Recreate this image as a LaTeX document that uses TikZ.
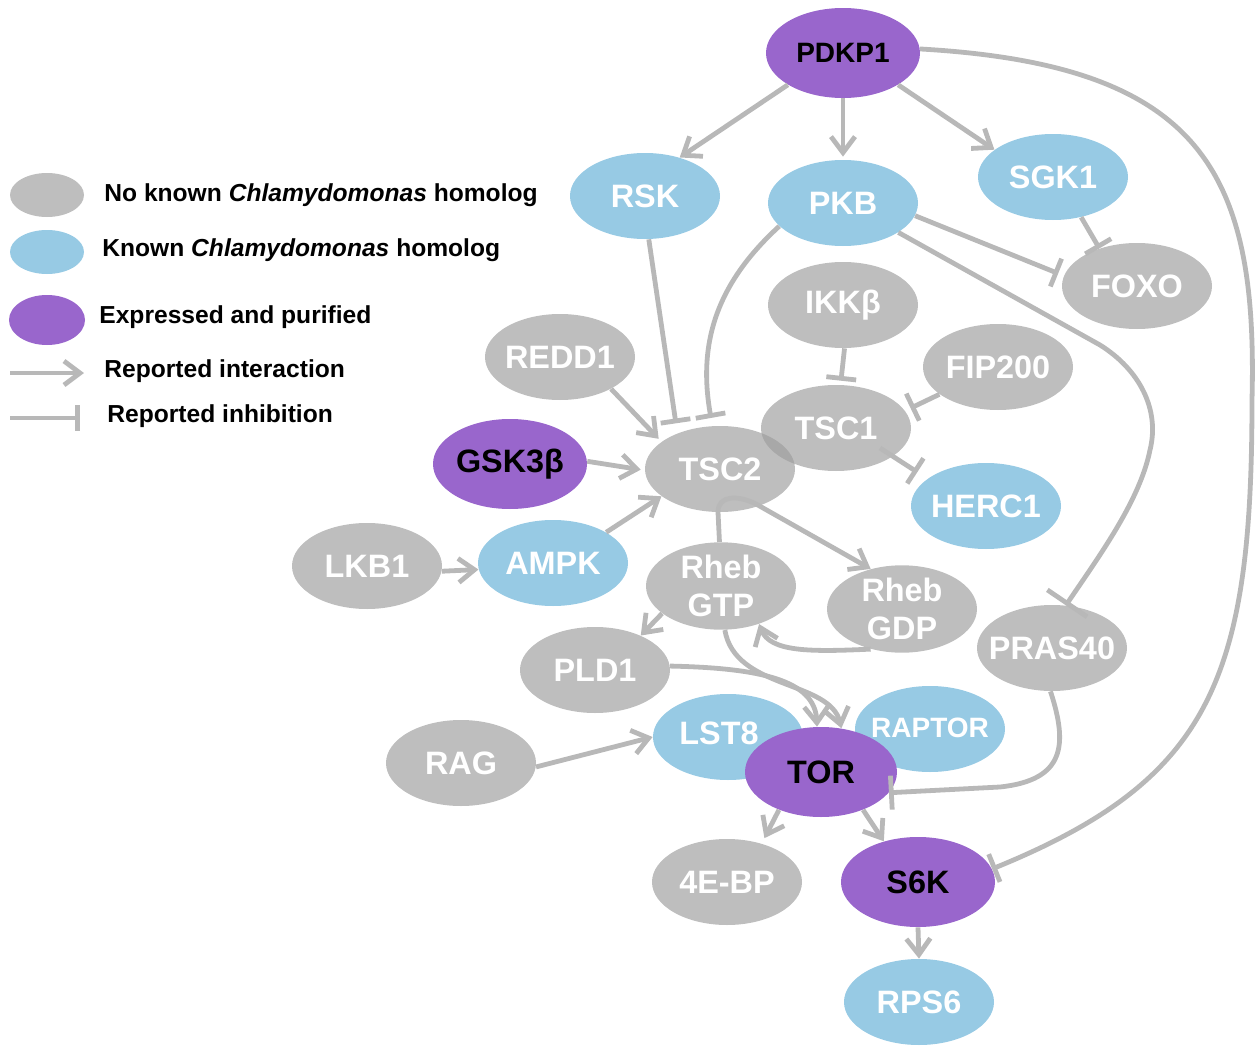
\documentclass[tikz,border=0pt]{standalone}
\usepackage{fontspec}
\setmainfont{Liberation Sans}
\newfontfamily\nodefont{Liberation Sans}
\usetikzlibrary{shapes.geometric,arrows.meta}
\definecolor{ngray}{HTML}{BEBEBE}
\definecolor{nblue}{HTML}{97CAE4}
\definecolor{npurp}{HTML}{9966CC}
\definecolor{eline}{HTML}{B8B8B8}
\definecolor{ovl}{HTML}{A8A8A8}
\newcommand\tx[1]{\makebox[0pt]{#1}}
\begin{document}
\begin{tikzpicture}[x=0.5pt,y=-0.5pt,
  nd/.style={ellipse, inner sep=0pt, minimum width=75pt, minimum height=43pt,
    text=white, align=center,
    font=\nodefont\bfseries\fontsize{16.2}{19}\selectfont},
  small/.style={font=\nodefont\bfseries\fontsize{14}{17}\selectfont},
  gnd/.style={nd, fill=ngray},
  bnd/.style={nd, fill=nblue},
  pnd/.style={nd, fill=npurp, text=black, minimum width=77pt, minimum height=45pt},
  edge/.style={draw=eline, line width=2.4pt},
  act/.style={edge, -{Straight Barb[length=8pt,width=12pt]}},
  inh/.style={edge, -{Bar[width=15pt]}},
  leg/.style={anchor=west, inner sep=0pt, font=\bfseries\fontsize{12.3}{14}\selectfont}
]
\useasboundingbox (0,0) rectangle (1255,1049);

% legend
\node[gnd, minimum width=37pt, minimum height=22pt] (lg1) at (47,195) {};
\node[bnd, minimum width=37pt, minimum height=22pt] (lg2) at (47,252) {};
\node[pnd, minimum width=38pt, minimum height=25pt] (lg3) at (47,320) {};
\node[leg] (lt1) at (104,195) {No known \textit{Chlamydomonas} homolog};
\node[leg] (lt2) at (102,250) {Known \textit{Chlamydomonas} homolog};
\node[leg] (lt3) at (99,317) {Expressed and purified};
\node[leg] (lt4) at (104,371) {Reported interaction};
\node[leg] (lt5) at (107,416) {Reported inhibition};
\coordinate (la1) at (10,373);
\coordinate (la2) at (84,373);
\coordinate (lb1) at (10,418);
\coordinate (lb2) at (80,418);
\draw[act] (la1) -- (la2);
\draw[edge, -{Bar[width=13pt]}] (lb1) -- (lb2);

% nodes
\node[pnd, small] (pdk) at (843,53) {\tx{PDKP1}};
\node[bnd] (rsk) at (645,196) {\tx{RSK}};
\node[bnd] (pkb) at (843,203) {\tx{PKB}};
\node[bnd] (sgk) at (1053,177) {\tx{SGK1}};
\node[gnd] (foxo) at (1137,286) {\tx{FOXO}};
\node[gnd] (ikk) at (843,305) {\tx{IKKβ}};
\node[gnd] (fip) at (998,367) {\tx{FIP200}};
\node[gnd] (redd) at (560,357) {\tx{REDD1}};
\node[gnd] (tsc2) at (720,469) {\tx{TSC2}};
\node[gnd] (tsc1) at (836,428) {\tx{TSC1}};
\begin{scope}
  \clip (tsc2.center) ellipse [x radius=37.5pt, y radius=21.5pt];
  \fill[ovl] (tsc1.center) ellipse [x radius=37.5pt, y radius=21.5pt];
\end{scope}
\node[pnd] (gsk) at (510,464) {\tx{GSK3β}};
\node[bnd] (herc) at (986,506) {\tx{HERC1}};
\node[gnd] (lkb) at (367,566) {\tx{LKB1}};
\node[bnd] (ampk) at (553,563) {\tx{AMPK}};
\node[gnd] (rgtp) at (721,586) {\tx{Rheb}\\\tx{GTP}};
\node[gnd] (rgdp) at (902,609) {\tx{Rheb}\\\tx{GDP}};
\node[gnd] (pras) at (1052,648) {\tx{PRAS40}};
\node[gnd] (pld) at (595,670) {\tx{PLD1}};
\node[bnd] (lst) at (728,737) {\tx{\hspace*{-9pt}\raisebox{4pt}{LST8}}};
\node[bnd, small] (raptor) at (930,729) {\tx{\raisebox{1.5pt}{RAPTOR}}};
\node[pnd, minimum width=76pt] (tor) at (821,772) {\tx{TOR}};
\node[gnd] (rag) at (461,763) {\tx{RAG}};
\node[gnd] (ebp) at (727,882) {\tx{4E-BP}};
\node[pnd] (s6k) at (918,882) {\tx{S6K}};
\node[bnd] (rps) at (919,1002) {\tx{RPS6}};

% edges
\draw[act] (pdk.210) -- (rsk.48);
\draw[act, shorten >=1.5pt] (pdk.south) -- (pkb.north);
\draw[act] (pdk.330) -- (sgk.155);
\draw[inh] (pdk.3) .. controls (1200,65) and (1258,170) .. (1252,400)
   .. controls (1252,680) and (1210,780) .. (s6k.10);
\draw[inh] (sgk.-55) -- (foxo.135);
\draw[inh, shorten >=3pt] (pkb.-10) -- (foxo.172);
\draw[edge, -{Bar[width=24pt]}] (pkb.-28) -- (1100,345) .. controls (1140,370) and (1160,410) .. (1150,450)
   .. controls (1140,500) and (1100,555) .. (pras.72);
\draw[inh, shorten >=5pt] (rsk.-85) -- (tsc2.140);
\draw[inh, shorten >=4pt] (pkb.200) .. controls (715,285) and (698,345) .. (tsc2.100);
\draw[inh, shorten >=2pt] (ikk.-88) -- (tsc1.84);
\draw[inh, shorten >=3pt] (fip.205) -- (tsc1.14);
\draw[inh, shorten >=6pt] ([shift={(44,20)}]tsc1.center) -- (herc.155);
\draw[act, shorten >=2pt] (redd.-32) -- (tsc2.155);
\draw[act, shorten >=2pt] (gsk.2) -- (tsc2.181);
\draw[act] (ampk.30) -- (tsc2.205);
\draw[act] (lkb.-4) -- (ampk.185);
\draw[act] (rgtp.92) -- (718,512) .. controls (718,495) and (738,495) .. (756,504) -- (rgdp.128);
\draw[act] (rgdp.232) .. controls (810,652) and (770,652) .. (rgtp.-45);
\draw[act] (rgtp.205) -- (pld.37);
\draw[act] (rgtp.-85) .. controls (735,690) and (830,680) .. (tor.65);
\draw[act] (pld.3) .. controls (760,668) and (815,680) .. (tor.95);
\draw[act] (rag.-3) -- (lst.180);
\draw[act, shorten >=3pt] (tor.222) -- (ebp.48);
\draw[act] (tor.-42) -- (s6k.130);
\draw[edge, -{Bar[width=17pt]}] (pras.-92) .. controls (1068,745) and (1065,780) .. (1000,787) -- (tor.-17);
\draw[act] (s6k.south) -- (rps.north);
\end{tikzpicture}
\end{document}
